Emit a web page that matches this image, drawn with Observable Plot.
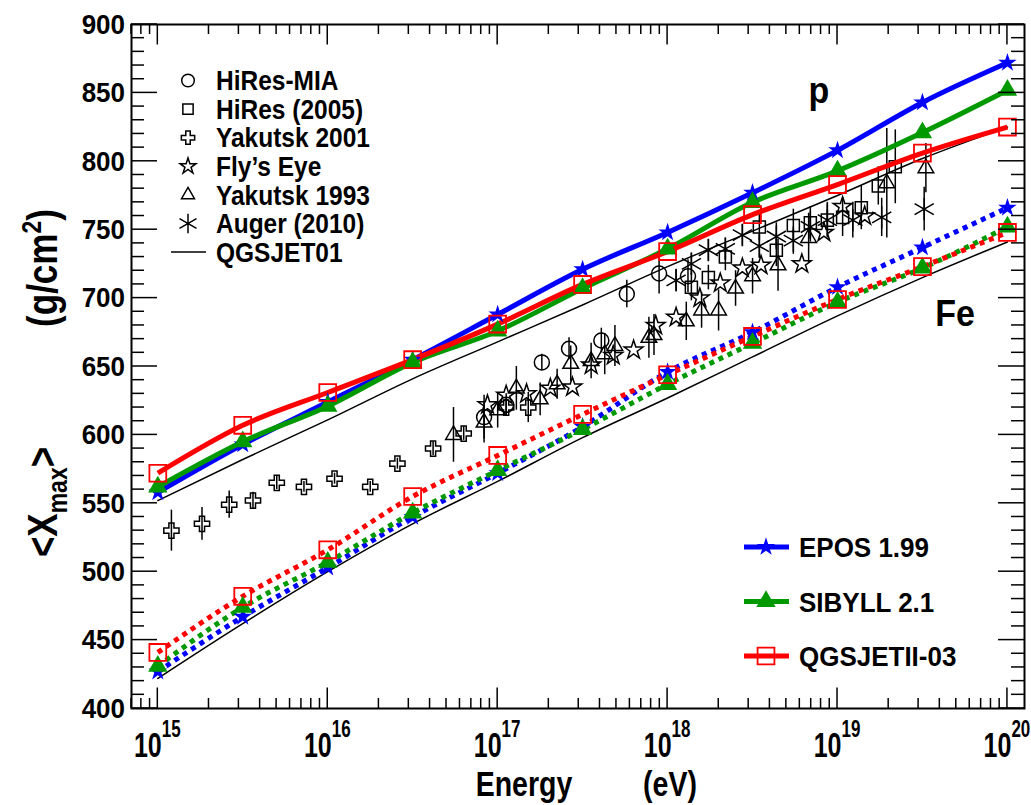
<!DOCTYPE html>
<html>
<head>
<meta charset="utf-8">
<script src="https://cdn.jsdelivr.net/npm/d3@7"></script>
<script src="https://cdn.jsdelivr.net/npm/@observablehq/plot@0.6"></script>
<style>
  html, body { margin: 0; padding: 0; background: #fff; }
  #chart svg { display: block; }
</style>
</head>
<body>
<div id="chart"></div>
<script>
// ---- Simulated <Xmax> versus energy (proton: solid, iron: dotted) ----
const energies   = [1e15, 3.16e15, 1e16, 3.16e16, 1e17, 3.16e17, 1e18, 3.16e18, 1e19, 3.16e19, 1e20];
const eposP      = [558, 593, 624, 655, 688, 721, 748, 777, 808, 843, 872];
const sibyllP    = [562, 595, 621, 653, 676, 707, 736, 770, 793, 821, 852];
const qgsjet2P   = [572, 607, 631, 655, 681, 710, 734, 761, 783, 806, 825];
const eposFe     = [427, 467, 503, 540, 572, 606, 646, 675, 708, 737, 766];
const sibyllFe   = [431, 474, 507, 543, 574, 604, 637, 667, 697, 722, 752];
const qgsjet2Fe  = [441, 482, 516, 555, 585, 615, 644, 672, 699, 723, 748];
const qgsjet01P  = [552, 582, 611, 641, 668, 695, 723, 749, 775, 802, 825];
const qgsjet01Fe = [422, 462, 500, 535, 566, 598, 627, 657, 687, 715, 741];

// ---- Measurements: log10(E/eV), <Xmax> (g/cm2), error ----
const hiresMiaLgE = [16.92, 17.05, 17.26, 17.42, 17.61, 17.76, 17.95, 18.12];
const hiresMiaX   = [613, 622, 653, 663, 669, 703, 718, 716];
const hiresMiaErr = [16, 8, 6, 8, 9, 10, 15, 12];

const hires05LgE = [18.14, 18.24, 18.34, 18.54, 18.64, 18.74, 18.84, 18.94, 19.03, 19.14, 19.24, 19.34];
const hires05X   = [708, 715, 730, 752, 735, 753, 755, 757, 759, 766, 782, 796];
const hires05Err = [10, 9, 10, 10, 12, 12, 12, 13, 14, 16, 14, 27];

const yak01LgE = [15.08, 15.26, 15.42, 15.56, 15.70, 15.86, 16.04, 16.25, 16.41, 16.62, 16.80, 17.05, 17.18];
const yak01X   = [530, 535, 549, 552, 565, 562, 568, 562, 579, 590, 601, 620, 620];
const yak01Err = [15, 12, 10, 6, 5, 4, 4, 4, 4, 5, 5, 6, 11];

const flysEyeLgE = [16.94, 17.05, 17.17, 17.31, 17.44, 17.55, 17.68, 17.80, 17.93, 18.05, 18.19, 18.31, 18.44, 18.55, 18.79, 18.92, 19.03, 19.16];
const flysEyeX   = [622, 629, 630, 634, 635, 651, 658, 662, 680, 686, 700, 711, 722, 724, 725, 748, 767, 760];

const yak93LgE = [16.74, 16.92, 17.00, 17.11, 17.25, 17.35, 17.43, 17.55, 17.63, 17.69, 17.89, 17.92, 18.11, 18.20, 18.30, 18.40, 18.50, 18.65, 18.83, 19.29, 19.52];
const yak93X   = [600, 609, 618, 634, 626, 637, 652, 654, 659, 665, 671, 673, 683, 691, 691, 707, 716, 724, 744, 784, 795];
const yak93Err = [20, 15, 13, 16, 12, 11, 13, 13, 15, 15, 15, 15, 14, 13, 15, 13, 13, 19, 18, 40, 18];

const augerLgE = [18.05, 18.14, 18.24, 18.34, 18.44, 18.54, 18.64, 18.74, 18.84, 18.94, 19.09, 19.26, 19.51];
const augerX   = [713, 725, 735, 736, 746, 738, 745, 742, 752, 757, 757, 759, 765];
const augerErr = [8, 8, 8, 8, 8, 9, 10, 10, 11, 12, 13, 14, 16];

// ---- Axis ticks and labels ----
const xDomain = [7e14, 1.26e20];
const yDomain = [400, 900];
const xDecades = [15, 16, 17, 18, 19, 20];
const yLabels = [400, 450, 500, 550, 600, 650, 700, 750, 800, 850, 900];

const dataLegend = ["HiRes-MIA", "HiRes (2005)", "Yakutsk 2001", "Fly\u2019s Eye", "Yakutsk 1993", "Auger (2010)", "QGSJET01"];
const modelLegend = ["EPOS 1.99", "SIBYLL 2.1", "QGSJETII-03"];

const FONT = '"Liberation Sans", Arial, Helvetica, sans-serif';
const BLUE = "#0000ff", GREEN = "#009a00", RED = "#ff0000";

// marker radii (Plot's r: symbol area = pi r^2)
const R = {circle: 7.5, square: 6.8, cross: 6.4, star: 5.9, triangle: 5.8, asterisk: 10.5};

// ---- tables built from the arrays ----
const curve = (vals) => energies.map((E, i) => ({E, X: vals[i]}));
const points = (lg, xs, errs) => lg.map((l, i) => ({E: 10 ** l, X: xs[i], err: errs ? errs[i] : 0}));

const hiresMia = points(hiresMiaLgE, hiresMiaX, hiresMiaErr);
const hires05 = points(hires05LgE, hires05X, hires05Err);
const yak01 = points(yak01LgE, yak01X, yak01Err);
const flysEye = points(flysEyeLgE, flysEyeX, null);
const yak93 = points(yak93LgE, yak93X, yak93Err);
const auger = points(augerLgE, augerX, augerErr);

// Text helper: bold, slightly tall lettering
function label(parent, x, y, sy, text, {size = 24, anchor = "start", rotate = 0} = {}) {
  const g = parent.append("g")
    .attr("transform", `translate(${x},${y}) rotate(${rotate}) scale(1,${sy})`);
  const t = g.append("text")
    .attr("font-family", FONT).attr("font-weight", "bold")
    .attr("font-size", size).attr("text-anchor", anchor)
    .attr("fill", "black");
  if (text != null) t.text(text);
  return t;
}

// Frame ticks (inward on all four sides), tick labels and axis titles
function axesMark(index, {x, y}, values, dims) {
  const left = dims.marginLeft, right = dims.width - dims.marginRight;
  const top = dims.marginTop, bottom = dims.height - dims.marginBottom;
  const g = d3.create("svg:g");
  const tk = g.append("g").attr("stroke", "black").attr("stroke-width", 1.5);

  for (let d = 14; d <= 20; d++) {
    for (let m = 1; m <= 9; m++) {
      const v = m * 10 ** d;
      if (v < xDomain[0] || v > xDomain[1]) continue;
      const px = x(v), len = m === 1 ? 20.5 : 10;
      tk.append("line").attr("x1", px).attr("x2", px).attr("y1", bottom).attr("y2", bottom - len);
      tk.append("line").attr("x1", px).attr("x2", px).attr("y1", top).attr("y2", top + len);
    }
  }
  for (let v = yDomain[0]; v <= yDomain[1]; v += 10) {
    const py = y(v), len = v % 50 === 0 ? 26 : 13;
    tk.append("line").attr("x1", left).attr("x2", left + len).attr("y1", py).attr("y2", py);
    tk.append("line").attr("x1", right).attr("x2", right - len).attr("y1", py).attr("y2", py);
  }

  // y tick labels
  for (const v of yLabels) {
    label(g, left - 6, y(v), 1.05, String(v), {size: 26, anchor: "end"}).attr("dy", "0.36em");
  }
  // x tick labels: 10 with superscript exponent
  for (const d of xDecades) {
    const t = label(g, x(10 ** d), bottom + 49, 1.42, null, {size: 25, anchor: "middle"});
    t.append("tspan").text("10");
    t.append("tspan").attr("dy", -14).attr("font-size", 17).text(String(d));
  }

  // axis titles
  label(g, 524, 796, 1.2, "Energy", {size: 28.5, anchor: "middle"});
  label(g, 670, 796, 1.2, "(eV)", {size: 28.5, anchor: "middle"});

  const t1 = label(g, 57, 502, 1.2, null, {size: 35, anchor: "middle", rotate: -90});
  t1.append("tspan").text("<X");
  t1.append("tspan").attr("dy", 8).attr("font-size", 23).text("max");
  t1.append("tspan").attr("dy", -8).text(">");
  const t2 = label(g, 57, 268, 1.2, null, {size: 35, anchor: "middle", rotate: -90});
  t2.append("tspan").text("(g/cm");
  t2.append("tspan").attr("dy", -13).attr("font-size", 23).text("2");
  t2.append("tspan").attr("dy", 13).text(")");

  // composition tags
  label(g, 819, 90, 1.1, "p", {size: 34, anchor: "middle"}).attr("dy", "0.36em");
  label(g, 955, 313, 1.1, "Fe", {size: 34, anchor: "middle"}).attr("dy", "0.36em");
  return g.node();
}

// Legends
const sym = (type, r) => d3.symbol().type(type).size(Math.PI * r * r)();
function legendMark(index, scales, values, dims) {
  const g = d3.create("svg:g");
  // measurements legend
  const shapes = [[d3.symbolCircle, 6.3], [d3.symbolSquare, 5.8], [d3.symbolCross, 5.6],
                  [d3.symbolStar, 5], [d3.symbolTriangle, 4.8], [d3.symbolAsterisk, 9.3]];
  dataLegend.forEach((name, i) => {
    const yy = 80.5 + i * 28.6;
    if (i < shapes.length) {
      g.append("path").attr("d", sym(shapes[i][0], shapes[i][1]))
        .attr("transform", `translate(188,${yy})`)
        .attr("fill", "none").attr("stroke", "black").attr("stroke-width", 1.5);
    } else {
      g.append("line").attr("x1", 171).attr("x2", 206).attr("y1", yy).attr("y2", yy)
        .attr("stroke", "black").attr("stroke-width", 1.5);
    }
    label(g, 216, yy, 1.1, name, {size: 24.5}).attr("dy", "0.36em");
  });
  // model legend
  const styles = [
    {color: BLUE, type: d3.symbolStar, r: 5.8, fill: BLUE},
    {color: GREEN, type: d3.symbolTriangle, r: 7.2, fill: GREEN},
    {color: RED, type: d3.symbolSquare, r: 9.5, fill: "none"}
  ];
  modelLegend.forEach((name, i) => {
    const yy = 547 + i * 54.5, s = styles[i];
    g.append("line").attr("x1", 744).attr("x2", 789).attr("y1", yy).attr("y2", yy)
      .attr("stroke", s.color).attr("stroke-width", 5);
    g.append("path").attr("d", sym(s.type, s.r))
      .attr("transform", `translate(766,${yy})`)
      .attr("fill", s.fill).attr("stroke", s.fill === "none" ? s.color : "none")
      .attr("stroke-width", 1.8);
    label(g, 799, yy, 1.07, name, {size: 26}).attr("dy", "0.36em");
  });
  return g.node();
}

const modelLine = (vals, color, dotted) => Plot.line(curve(vals), {
  x: "E", y: "X", stroke: color, strokeWidth: 5,
  strokeDasharray: dotted ? "5,5" : "none", strokeLinecap: "butt", curve: "monotone-x"
});
const modelDots = (vals, color, kind) => {
  if (kind === "star") return Plot.dot(curve(vals), {x: "E", y: "X", symbol: "star", r: 5.8, fill: color});
  if (kind === "triangle") return Plot.dot(curve(vals), {x: "E", y: "X", symbol: "triangle", r: 7.2, fill: color});
  return Plot.dot(curve(vals), {x: "E", y: "X", symbol: "square", r: 9.5, fill: "none", stroke: color, strokeWidth: 1.8});
};
const errBars = (rows) => Plot.ruleX(rows.filter(d => d.err > 0), {
  x: "E", y1: d => d.X - d.err, y2: d => d.X + d.err, stroke: "black", strokeWidth: 1.5
});
const markers = (rows, symbol) => Plot.dot(rows, {
  x: "E", y: "X", symbol, r: R[symbol], fill: "none", stroke: "black", strokeWidth: 1.5
});

const chart = Plot.plot({
  width: 1031,
  height: 805,
  marginLeft: 131,
  marginRight: 7,
  marginTop: 24,
  marginBottom: 97,
  style: {fontFamily: FONT, background: "white"},
  x: {type: "log", domain: xDomain, axis: null},
  y: {domain: yDomain, axis: null},
  marks: [
    // QGSJET01 reference curves
    Plot.line(curve(qgsjet01P), {x: "E", y: "X", stroke: "black", strokeWidth: 1.5, curve: "monotone-x"}),
    Plot.line(curve(qgsjet01Fe), {x: "E", y: "X", stroke: "black", strokeWidth: 1.5, curve: "monotone-x"}),
    // measurements
    errBars(hiresMia), errBars(hires05), errBars(yak01), errBars(yak93), errBars(auger),
    markers(hiresMia, "circle"),
    markers(hires05, "square"),
    markers(yak01, "cross"),
    markers(flysEye, "star"),
    markers(yak93, "triangle"),
    markers(auger, "asterisk"),
    // iron (dotted)
    modelLine(eposFe, BLUE, true),
    modelLine(sibyllFe, GREEN, true),
    modelLine(qgsjet2Fe, RED, true),
    modelDots(eposFe, BLUE, "star"),
    modelDots(sibyllFe, GREEN, "triangle"),
    modelDots(qgsjet2Fe, RED, "square"),
    // proton (solid)
    modelLine(eposP, BLUE, false),
    modelLine(sibyllP, GREEN, false),
    modelLine(qgsjet2P, RED, false),
    modelDots(eposP, BLUE, "star"),
    modelDots(sibyllP, GREEN, "triangle"),
    modelDots(qgsjet2P, RED, "square"),
    Plot.frame({stroke: "black", strokeWidth: 2}),
    axesMark,
    legendMark
  ]
});
document.getElementById("chart").appendChild(chart);
</script>
</body>
</html>
